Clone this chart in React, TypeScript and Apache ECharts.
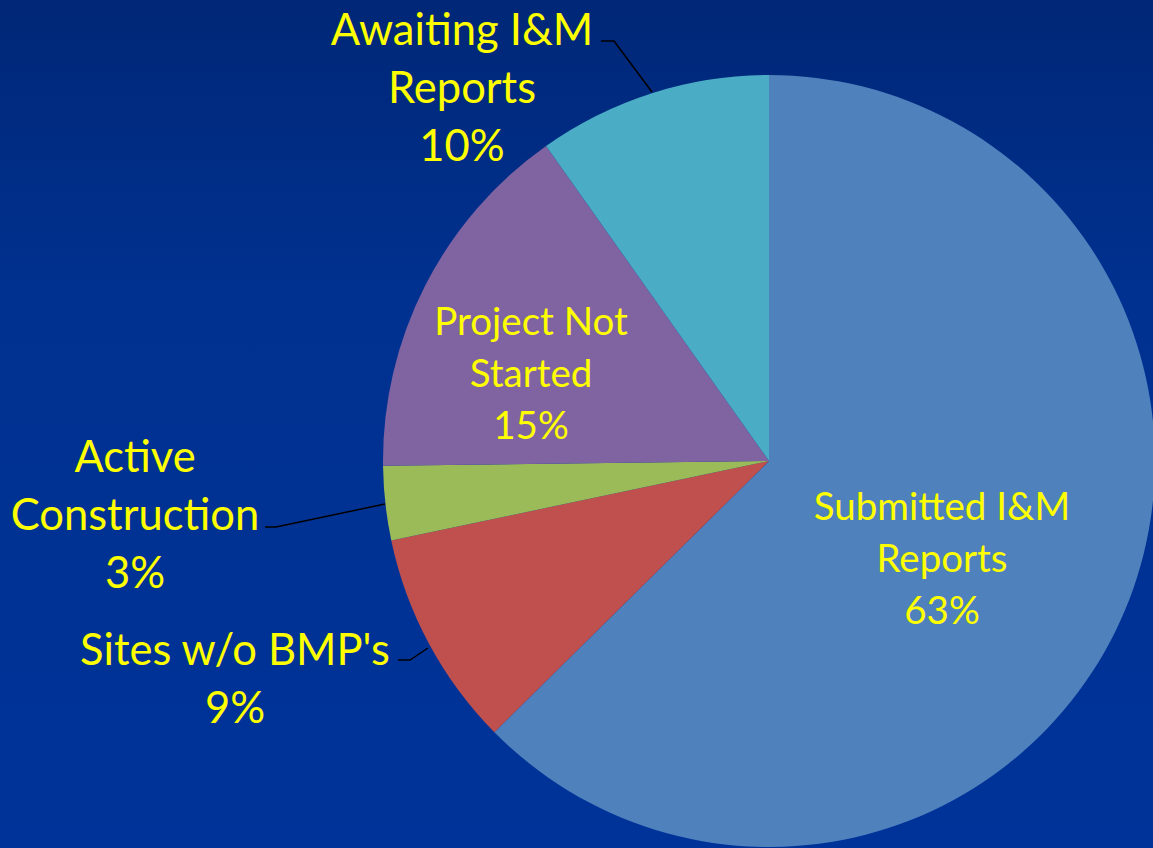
import React, { useEffect, useRef } from "react";
import * as echarts from "echarts";

const categories = [
  "Submitted I&M Reports",
  "Sites w/o BMP's",
  "Active Construction",
  "Project Not Started",
  "Awaiting I&M Reports",
];
const labelNames = [
  "Submitted I&M\nReports",
  "Sites w/o BMP's",
  "Active\nConstruction",
  "Project Not\nStarted",
  "Awaiting I&M\nReports",
];
// shares (labels show rounded percentages)
const values = [62.6, 9.1, 3.1, 15.4, 9.8];
const colors = ["#4F81BD", "#C0504D", "#9BBB59", "#8064A2", "#4BACC6"];
const labelInside = [true, false, false, true, false];

// label anchor placement (center of text block) and leader lines
const labelSpots: Record<number, { x: number; y: number; line?: number[][] }> = {
  0: { x: 942, y: 557 },
  1: { x: 235, y: 677, line: [[428, 648], [410, 660], [398, 660]] },
  2: { x: 135, y: 513, line: [[385, 504], [276, 527], [265, 527]] },
  3: { x: 531, y: 372 },
  4: { x: 462, y: 86, line: [[652, 92], [614, 41], [601, 41]] },
};

export default function App() {
  const ref = useRef<HTMLDivElement>(null);
  useEffect(() => {
    if (!ref.current) return;
    const chart = echarts.init(ref.current, undefined, { renderer: "svg" });
    const total = values.reduce((a, b) => a + b, 0);
    chart.setOption({
      animation: false,
      backgroundColor: new echarts.graphic.LinearGradient(0, 0, 0, 1, [
        { offset: 0, color: "#002777" },
        { offset: 0.35, color: "#003190" },
        { offset: 1, color: "#003399" },
      ]),
      series: [
        {
          type: "pie",
          center: [769, 461],
          radius: 386,
          startAngle: 90,
          clockwise: true,
          itemStyle: { borderWidth: 0 },
          emphasis: { disabled: true },
          data: categories.map((name, i) => ({
            name,
            value: values[i],
            itemStyle: { color: colors[i] },
            label: {
              show: true,
              position: labelInside[i] ? "inside" : "outside",
              formatter: () =>
                `${labelNames[i]}\n${Math.round((values[i] / total) * 100)}%`,
              color: "#FFFF00",
              fontFamily: "Lato, 'Open Sans', sans-serif",
              fontSize: labelInside[i] ? 38.5 : 43.5,
              lineHeight: labelInside[i] ? 52 : 58,
              align: "center",
            },
            labelLine: {
              show: !labelInside[i],
              lineStyle: { color: "#000000", width: 1.5 },
            },
          })),
          labelLayout: (params: any) => {
            const s = labelSpots[params.dataIndex];
            const out: any = {
              x: s.x,
              y: s.y,
              align: "center",
              verticalAlign: "middle",
            };
            if (s.line) out.labelLinePoints = s.line;
            return out;
          },
        },
      ],
    });
    return () => chart.dispose();
  }, []);
  return (
    <div
      ref={ref}
      style={{ position: "absolute", left: 0, top: 0, width: 1153, height: 848 }}
    />
  );
}
